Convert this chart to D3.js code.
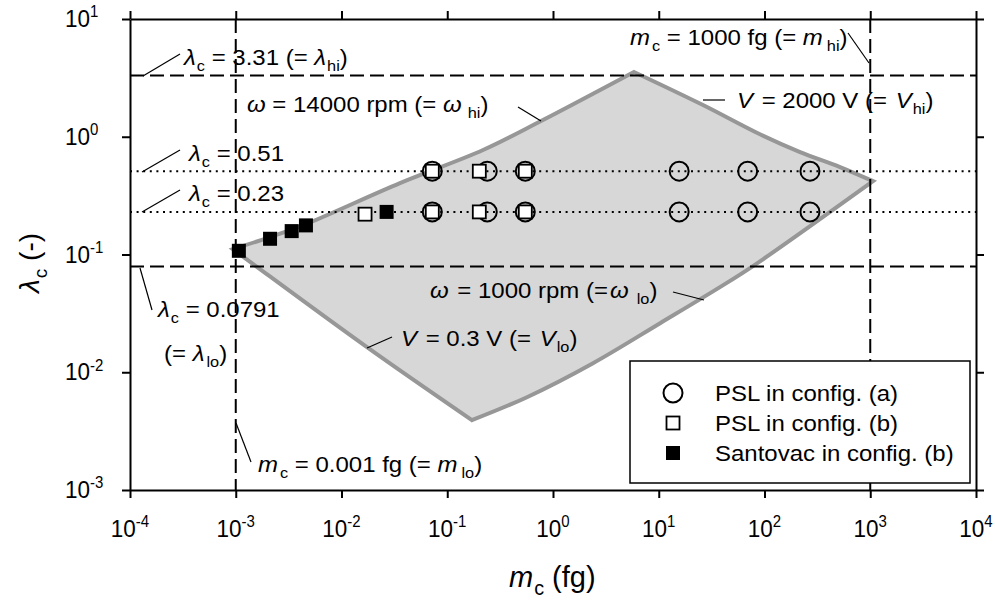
<!DOCTYPE html>
<html><head><meta charset="utf-8">
<script src="https://cdn.jsdelivr.net/npm/d3@7"></script>
<style>
body{margin:0;background:#fff;}
svg{font-family:"Liberation Sans",Arial,Helvetica,sans-serif;}
</style></head><body>
<svg id="chart" width="995" height="602"></svg>
<script>
// ---- axis decades ----
const xTickExps = [-4, -3, -2, -1, 0, 1, 2, 3, 4];
const yTickExps = [-3, -2, -1, 0, 1];

// ---- operating window boundary: [m_c (fg), lambda_c] ----
const omegaHiEdge = [[0.00094,0.111],[0.00211,0.1406],[0.00461,0.1813],[0.0357,0.404],[0.218,0.771],[0.770,1.36],[5.83,3.55]];
const vHiEdge     = [[5.83,3.55],[26.2,1.86],[90.6,1.05],[217,0.741],[518,0.553],[1062,0.420]];
const omegaLoEdge = [[1062,0.420],[77.8,0.0797],[37.9,0.0528],[10.3,0.0261],[2.39,0.01194],[0.567,0.00614],[0.171,0.00392]];
const vLoEdge     = [[0.171,0.00392],[0.0174,0.01633],[0.00146,0.0829],[0.00094,0.111]];

// ---- limits ----
const lambdaHi = 3.31, lambdaLo = 0.0791;
const massLo = 0.001, massHi = 1000;
const lambdaRows = [0.51, 0.23];

// ---- measurements: [m_c (fg), lambda_c] ----
const pslConfigA = [[0.0722,0.51],[0.239,0.51],[0.547,0.51],[15.6,0.51],[69.3,0.51],[269,0.51],
                    [0.0722,0.23],[0.239,0.23],[0.547,0.23],[15.6,0.23],[69.3,0.23],[269,0.23]];
const pslConfigB = [[0.0722,0.51],[0.201,0.51],[0.547,0.51],
                    [0.0722,0.23],[0.201,0.23],[0.547,0.23],[0.0167,0.22]];
const santovacConfigB = [[0.00107,0.1075],[0.00211,0.136],[0.00338,0.158],[0.00461,0.1767],[0.0267,0.23]];

const legendLabels = ["PSL in config. (a)", "PSL in config. (b)", "Santovac in config. (b)"];

const svg = d3.select("#chart");
const x = d3.scaleLog().domain([1e-4, 1e4]).range([130, 976]);
const y = d3.scaleLog().domain([1e-3, 1e1]).range([490, 19]);

// ---- shaded window ----
const edgeLine = d3.line().x(d => x(d[0])).y(d => y(d[1])).curve(d3.curveCatmullRom.alpha(0.5));
const outline = [omegaHiEdge, vHiEdge, omegaLoEdge, vLoEdge]
  .map((e, i) => { const s = edgeLine(e); return i === 0 ? s : s.replace(/^M/, "L"); })
  .join("") + "Z";
svg.append("path").attr("d", outline)
  .attr("fill", "#d7d7d7").attr("stroke", "#979797").attr("stroke-width", 4)
  .attr("stroke-linejoin", "miter").attr("stroke-miterlimit", 10);

// ---- limit lines ----
const dashed = svg.append("g").attr("stroke", "#000").attr("stroke-width", 2)
  .attr("stroke-dasharray", "14,6").attr("fill", "none");
[lambdaHi, lambdaLo].forEach(v => dashed.append("line")
  .attr("x1", x(1e-4)).attr("x2", x(1e4)).attr("y1", y(v)).attr("y2", y(v)));
[massLo, massHi].forEach(v => dashed.append("line")
  .attr("x1", x(v)).attr("x2", x(v)).attr("y1", y(1e1)).attr("y2", y(1e-3)));

const dotted = svg.append("g").attr("stroke", "#000").attr("stroke-width", 2)
  .attr("stroke-dasharray", "2,4.6").attr("fill", "none");
lambdaRows.forEach(v => dotted.append("line")
  .attr("x1", x(1e-4)).attr("x2", x(1e4)).attr("y1", y(v)).attr("y2", y(v)));

// ---- markers ----
const R = 9.5, SQ = 13, SQF = 14;
svg.append("g").selectAll("circle").data(pslConfigA).join("circle")
  .attr("cx", d => x(d[0])).attr("cy", d => y(d[1])).attr("r", R)
  .attr("fill", "none").attr("stroke", "#000").attr("stroke-width", 2);
svg.append("g").selectAll("rect").data(pslConfigB).join("rect")
  .attr("x", d => x(d[0]) - SQ / 2).attr("y", d => y(d[1]) - SQ / 2)
  .attr("width", SQ).attr("height", SQ)
  .attr("fill", "#fff").attr("stroke", "#000").attr("stroke-width", 1.8);
svg.append("g").selectAll("rect").data(santovacConfigB).join("rect")
  .attr("x", d => x(d[0]) - SQF / 2).attr("y", d => y(d[1]) - SQF / 2)
  .attr("width", SQF).attr("height", SQF).attr("fill", "#000");

// ---- axes (frame on all four sides, ticks outward) ----
const xTicks = xTickExps.map(e => Math.pow(10, e));
const yTicks = yTickExps.map(e => Math.pow(10, e));
const axes = [
  [d3.axisBottom(x).tickValues(xTicks), `translate(0,${y(1e-3)})`],
  [d3.axisTop(x).tickValues(xTicks), `translate(0,${y(1e1)})`],
  [d3.axisLeft(y).tickValues(yTicks), `translate(${x(1e-4)},0)`],
  [d3.axisRight(y).tickValues(yTicks), `translate(${x(1e4)},0)`]
];
axes.forEach(([ax, tr]) => {
  const g = svg.append("g").attr("transform", tr)
    .call(ax.tickSize(8).tickSizeOuter(0).tickFormat(""));
  g.selectAll("path,line").attr("stroke", "#000").attr("stroke-width", 2);
});

function powerLabel(g, px, py, exp, anchor) {
  const t = g.append("text").attr("transform", `translate(${px},${py}) scale(1,1.06)`)
    .attr("text-anchor", anchor).attr("font-size", 22.5).attr("fill", "#000");
  t.append("tspan").text("10");
  t.append("tspan").attr("dy", -9).attr("font-size", 15).text(exp < 0 ? "-" + Math.abs(exp) : exp);
}
const tickLabels = svg.append("g");
xTickExps.forEach(e => powerLabel(tickLabels, x(Math.pow(10, e)), 537, e, "middle"));
yTickExps.forEach(e => powerLabel(tickLabels, 65, y(Math.pow(10, e)) + 8, e, "start"));

// ---- rich text helper: parts are [text, kind, gap] with kind n / i / sub ----
function richText(g, px, py, parts, size, sy) {
  size = size || 24;
  sy = sy || 0.92;
  const t = g.append("text").attr("transform", `translate(${px},${py}) scale(1,${sy})`)
    .attr("font-size", size).attr("fill", "#000");
  let lowered = false;
  const drop = Math.round(size * 0.27);
  parts.forEach(([s, kind, gap]) => {
    const sp = t.append("tspan").text(s);
    if (gap) sp.attr("dx", gap);
    if (kind === "sub") {
      sp.attr("font-size", size * 0.68);
      if (!lowered) { sp.attr("dy", drop); lowered = true; }
    } else {
      if (lowered) { sp.attr("dy", -drop); lowered = false; }
      if (kind === "i") sp.attr("font-style", "italic");
    }
  });
  return t;
}

// axis titles
richText(svg, 509, 587, [["m", "i"], ["c", "sub", 1], [" (fg)", "n"]], 29, 1);
const yTitle = svg.append("g").attr("transform", "translate(39,293) rotate(-90)");
richText(yTitle, 0, 0, [["λ", "i"], ["c", "sub", 1], [" (-)", "n"]], 28, 1);

// ---- annotations ----
const ann = svg.append("g");
const leaders = [
  [143,76,180,54], [142,172,180,150], [142,212,180,190], [140,268,152,310],
  [236,423,251,462], [848,33,869,63], [518,107,541,121], [703,100,725,100],
  [673,292,704,300], [367,348,392,337]
];
leaders.forEach(([x1, y1, x2, y2]) => ann.append("line")
  .attr("x1", x1).attr("y1", y1).attr("x2", x2).attr("y2", y2)
  .attr("stroke", "#000").attr("stroke-width", 1.2));

richText(ann, 184, 65, [["λ","i"],["c","sub",1],[" = 3.31 (= ","n"],["λ","i"],["hi","sub",1],[")","n"]]);
richText(ann, 189, 161, [["λ","i"],["c","sub",1],[" = 0.51","n"]]);
richText(ann, 189, 201, [["λ","i"],["c","sub",1],[" = 0.23","n"]]);
richText(ann, 158, 317, [["λ","i"],["c","sub",1],[" = 0.0791","n"]]);
richText(ann, 164, 361, [["(= ","n"],["λ","i"],["lo","sub",2],[")","n"]]);
richText(ann, 258, 472, [["m","i"],["c","sub",2],[" = 0.001 fg (= ","n"],["m","i"],["lo","sub",4],[")","n"]]);
richText(ann, 630, 45, [["m","i"],["c","sub",2],[" = 1000 fg (= ","n"],["m","i"],["hi","sub",4],[")","n"]]);
richText(ann, 247, 112, [["ω","i"],[" = 14000 rpm (= ","n"],["ω","i"],["hi","sub",6],[")","n"]]);
richText(ann, 737, 108, [["V","i"],[" = 2000 V (= ","n",2],["V","i",2],["hi","sub",1],[")","n"]]);
richText(ann, 430, 298, [["ω","i"],[" = 1000 rpm (=","n",2],["ω","i",2],["lo","sub",8],[")","n"]]);
richText(ann, 401, 346, [["V","i"],[" = 0.3 V (= ","n",2],["V","i",2],["lo","sub",1],[")","n"]]);

// ---- legend ----
const lg = svg.append("g");
lg.append("rect").attr("x", 630).attr("y", 361).attr("width", 340).attr("height", 122)
  .attr("fill", "#fff").attr("stroke", "#000").attr("stroke-width", 1.5);
const rowsY = [393, 423, 453];
lg.append("circle").attr("cx", 673).attr("cy", rowsY[0]).attr("r", R)
  .attr("fill", "none").attr("stroke", "#000").attr("stroke-width", 2);
lg.append("rect").attr("x", 673 - SQ / 2).attr("y", rowsY[1] - SQ / 2).attr("width", SQ).attr("height", SQ)
  .attr("fill", "#fff").attr("stroke", "#000").attr("stroke-width", 1.8);
lg.append("rect").attr("x", 673 - SQF / 2).attr("y", rowsY[2] - SQF / 2).attr("width", SQF).attr("height", SQF)
  .attr("fill", "#000");
legendLabels.forEach((s, i) => lg.append("text")
  .attr("transform", `translate(715,${rowsY[i] + 8}) scale(1,0.92)`)
  .attr("font-size", 24).attr("fill", "#000").text(s));
</script>
</body></html>
